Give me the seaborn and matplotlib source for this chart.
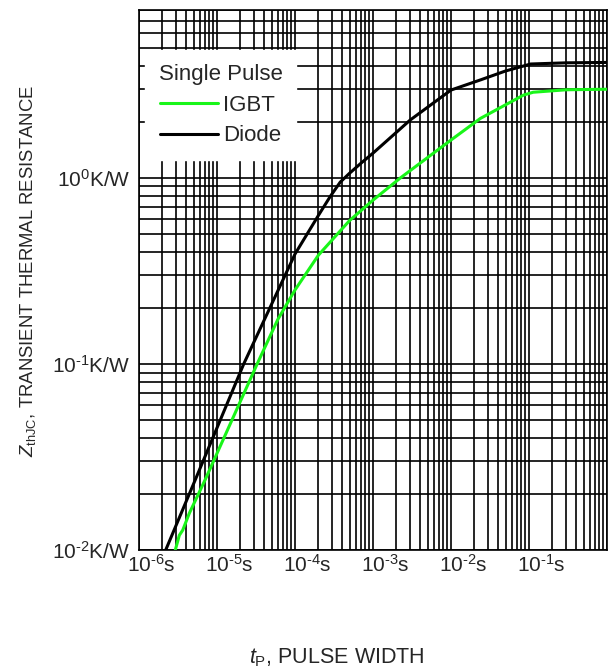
import numpy as np
import pandas as pd
import matplotlib
matplotlib.use("Agg")
import matplotlib.pyplot as plt
import matplotlib.transforms as mtransforms
from matplotlib.ticker import LogLocator, NullFormatter, FixedLocator
import seaborn as sns

# ---- data ----
t_diode = [2.2e-6, 5.3e-6, 2.2e-5, 1.0e-4, 2.0e-4, 2.8e-4, 3.8e-4, 5.0e-4, 7.0e-4,
           1.0e-3, 3.0e-3, 1.0e-2, 2.4e-2, 5.0e-2, 1.05e-1, 3.0e-1, 1.0]
z_diode = [0.01, 0.024, 0.10, 0.39, 0.63, 0.79, 0.95, 1.06, 1.20,
           1.36, 2.05, 2.97, 3.37, 3.76, 4.10, 4.16, 4.18]

t_igbt = [2.92e-6, 3.29e-6, 3.64e-6, 4.43e-6, 7.03e-6, 3.27e-5, 6.0e-5, 1.0e-4, 2.0e-4,
          5.0e-4, 1.0e-3, 2.24e-3, 1.0e-2, 2.38e-2, 8.5e-2, 1.13e-1, 3.0e-1, 1.0]
z_igbt = [0.01, 0.012, 0.0128, 0.0158, 0.0238, 0.10, 0.173, 0.25, 0.385,
          0.59, 0.76, 1.0, 1.60, 2.09, 2.79, 2.89, 2.98, 3.0]

series_names = ["IGBT", "Diode"]
series_colors = ["#19f519", "#000000"]

x_ticks = [1e-6, 1e-5, 1e-4, 1e-3, 1e-2, 1e-1]
x_ticklabels = [r"$10^{\text{-6}}$s", r"$10^{\text{-5}}$s", r"$10^{\text{-4}}$s",
                r"$10^{\text{-3}}$s", r"$10^{\text{-2}}$s", r"$10^{\text{-1}}$s"]
y_ticks = [1e-2, 1e-1, 1e0]
y_ticklabels = [r"$10^{\text{-2}}$K/W", r"$10^{\text{-1}}$K/W", r"$10^{\text{0}}$K/W"]

legend_title = "Single Pulse"
x_label = r"$t_{\mathrm{P}}$, PULSE WIDTH"
y_label = r"$Z_{\mathrm{thJC}}$, TRANSIENT THERMAL RESISTANCE"

# ---- styling ----
sns.set_style("white")
plt.rcParams["font.family"] = ["Liberation Sans", "DejaVu Sans"]
plt.rcParams["mathtext.fontset"] = "custom"
plt.rcParams["mathtext.rm"] = "Liberation Sans"
plt.rcParams["mathtext.it"] = "Liberation Sans:italic"
plt.rcParams["mathtext.bf"] = "Liberation Sans:bold"
plt.rcParams["axes.unicode_minus"] = False

df = pd.concat([
    pd.DataFrame({"t": t_igbt, "z": z_igbt, "series": "IGBT"}),
    pd.DataFrame({"t": t_diode, "z": z_diode, "series": "Diode"}),
], ignore_index=True)

W, H = 608, 670
fig = plt.figure(figsize=(W / 100, H / 100), dpi=100)
ax = fig.add_axes([139 / W, 1 - 550 / H, (607 - 139) / W, (550 - 10) / H])

sns.lineplot(data=df, x="t", y="z", hue="series", hue_order=series_names,
             palette=dict(zip(series_names, series_colors)), linewidth=2.2,
             sort=False, estimator=None, ax=ax, zorder=3)

ax.set_xscale("log")
ax.set_yscale("log")
ax.set_xlim(1e-6, 1.0)
ax.set_ylim(1e-2, 8.0)

ax.xaxis.set_major_locator(FixedLocator(x_ticks))
ax.set_xticklabels(x_ticklabels)
ax.yaxis.set_major_locator(FixedLocator(y_ticks))
ax.set_yticklabels(y_ticklabels)
ax.xaxis.set_minor_locator(LogLocator(base=10, subs=np.arange(1, 10), numticks=30))
ax.yaxis.set_minor_locator(LogLocator(base=10, subs=np.arange(1, 10), numticks=30))
ax.xaxis.set_minor_formatter(NullFormatter())
ax.yaxis.set_minor_formatter(NullFormatter())

ax.grid(True, which="both", color="black", linewidth=1.2)
ax.tick_params(which="both", length=0)
ax.tick_params(axis="x", labelsize=15, pad=3)
ax.tick_params(axis="y", labelsize=15, pad=6.5)

offset = mtransforms.ScaledTranslation(-11.6 / 100, 0, fig.dpi_scale_trans)
for lab in ax.get_xticklabels():
    lab.set_horizontalalignment("left")
    lab.set_transform(lab.get_transform() + offset)

for sp in ax.spines.values():
    sp.set_color("black")
    sp.set_linewidth(1.2)

ax.set_xlabel(x_label, fontsize=15.5)
ax.xaxis.set_label_coords((337 - 139) / 468, (550 - 646) / 540)
ax.set_ylabel(y_label, fontsize=13.3)
ax.yaxis.set_label_coords((38 - 139) / 468, (550 - 271) / 540)

handles, labels = ax.get_legend_handles_labels()
leg = ax.legend(handles, labels, title=legend_title, loc="upper left",
                bbox_to_anchor=((145 - 139) / 468, (550 - 50) / 540),
                borderaxespad=0, fontsize=16, title_fontsize=16,
                frameon=True, fancybox=False, framealpha=1.0,
                handlelength=2.6, handletextpad=0.25, labelspacing=0.44,
                borderpad=0.62)
leg.get_frame().set_edgecolor("white")
leg.get_frame().set_facecolor("white")
leg.set_zorder(5)
for lh in leg.get_lines():
    lh.set_linewidth(2.2)

fig.savefig("out.png", dpi=100)
